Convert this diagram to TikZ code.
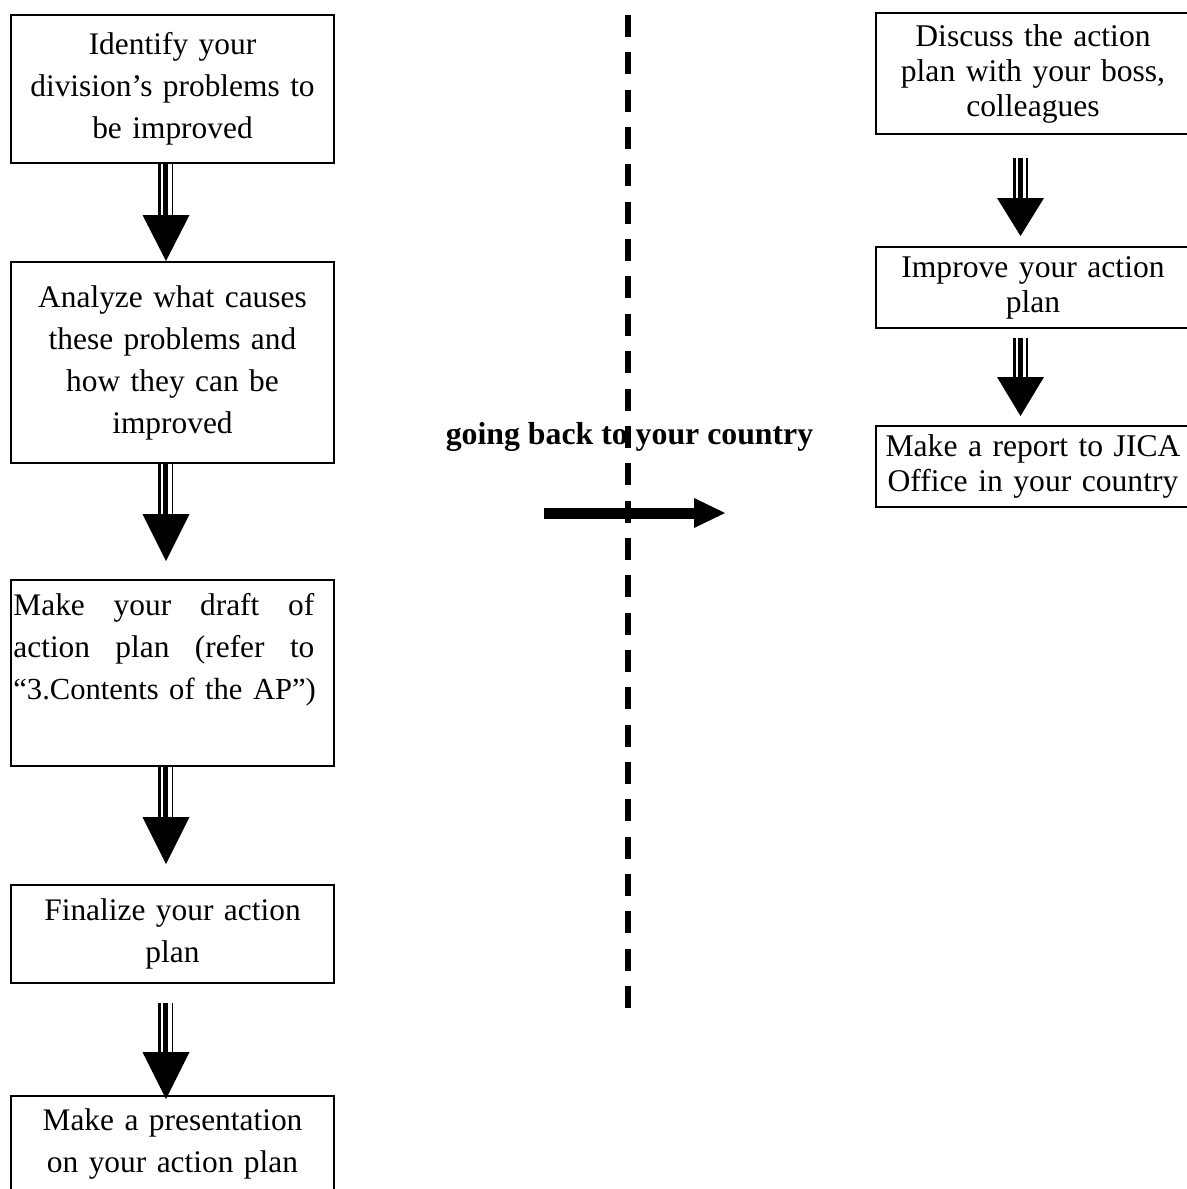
\documentclass[tikz,border=0pt]{standalone}
\usepackage{fontspec}
\setmainfont{Liberation Serif}
\usetikzlibrary{calc}
\tikzset{
  box/.style={draw, line width=1pt, inner sep=0pt, align=center},
  lbox/.style={box, minimum width=161.5pt, text width=155pt, font=\fontsize{15.7pt}{21pt}\selectfont},
  rbox/.style={box, minimum width=157pt, text width=150pt, font=\fontsize{15.8pt}{17.5pt}\selectfont},
  sepline/.style={line width=3pt, dash pattern=on 11pt off 7.675pt},
}
% #1 from anchor, #2 dx, #3 dy at start, #4 to anchor, #5 dy at tip, #6 head length (px)
\newcommand\triarrow[6]{%
  \coordinate (ts) at ($(#1)+(#2,#3)$);
  \coordinate (te) at ($(#4)+(#2,#5)$);
  \draw[line width=1.5pt] ($(ts)+(-6.5,0)$) -- ($(te)+(-6.5,-#6+2)$);
  \draw[line width=2.5pt] ($(ts)+(-0.5,0)$) -- ($(te)+(-0.5,-#6+2)$);
  \draw[line width=0.9pt] ($(ts)+(6.5,0)$) -- ($(te)+(6.5,-#6+2)$);
  \fill ($(te)+(-23.5,-#6)$) -- ($(te)+(23.5,-#6)$) -- (te) -- cycle;
}
\begin{document}
\begin{tikzpicture}[x=0.5pt,y=-0.5pt]
\useasboundingbox (0,0) rectangle (1187,1189);
\clip (0,0) rectangle (1187,1189);

% left column
\node[lbox, minimum height=74pt] (b1) at (172.5,89) {Identify your\\division’s problems to\\be improved};
\node[lbox, minimum height=100.5pt] (b2) at (172.5,362.5) {Analyze what causes\\these problems and\\how they can be\\improved};
\node[lbox, minimum height=93pt] (b3) at (172.5,673) {};
\node[anchor=north west, inner sep=0pt, text width=170pt, align=left,
      font=\fontsize{15.7pt}{21pt}\selectfont] (b3t) at ($(b3.north west)+(3,14)$)
  {\makebox[150.5pt][l]{Make\hfill your\hfill draft\hfill of}\\
   \makebox[150.5pt][l]{action\hfill plan\hfill (refer\hfill to}\\
   \mbox{\fontsize{15.3pt}{21pt}\selectfont “3.Contents of the AP”)}};
\node[lbox, minimum height=49pt] (b4) at (172.5,934) {Finalize your action\\plan};
\node[lbox, minimum height=48pt] (b5) at (172.5,1144) {Make a presentation\\on your action plan};

% right column
\node[rbox, minimum height=60.5pt] (r1) at (1033,73.5) {Discuss the action\\plan with your boss,\\colleagues};
\node[rbox, minimum height=40.5pt] (r2) at (1033,287.5) {Improve your action\\plan};
\node[rbox, minimum height=40.5pt] (r3) at (1033,466.5) {Make a report to JICA\\Office in your country};

% flow arrows
\triarrow{b1.south}{-6.5}{0}{b2.north}{0}{46}
\triarrow{b2.south}{-6.5}{0}{b3.north}{-18}{47}
\triarrow{b3.south}{-6.5}{0}{b4.north}{-20}{47}
\triarrow{b4.south}{-6.5}{19}{b5.north}{4}{47}
\triarrow{r1.south}{-12.5}{23}{r2.north}{-10}{38}
\triarrow{r2.south}{-12.5}{9}{r3.north}{-9}{39}

% label, separator and transition arrow
\node[anchor=base, inner sep=0pt, font=\fontsize{15.9pt}{19pt}\selectfont\bfseries] (lbl) at (629.5,444) {going back to your country};
\coordinate (d1) at (628,15);
\coordinate (d2) at (628,1008);
\draw[sepline] (d1) -- (d2);
\coordinate (h1) at (544,513);
\coordinate (h2) at (725,513);
\draw[line width=5.5pt] (h1) -- ($(h2)+(-30,0)$);
\fill ($(h2)+(-31,-15)$) -- ($(h2)+(-31,15)$) -- (h2) -- cycle;
\end{tikzpicture}
\end{document}
